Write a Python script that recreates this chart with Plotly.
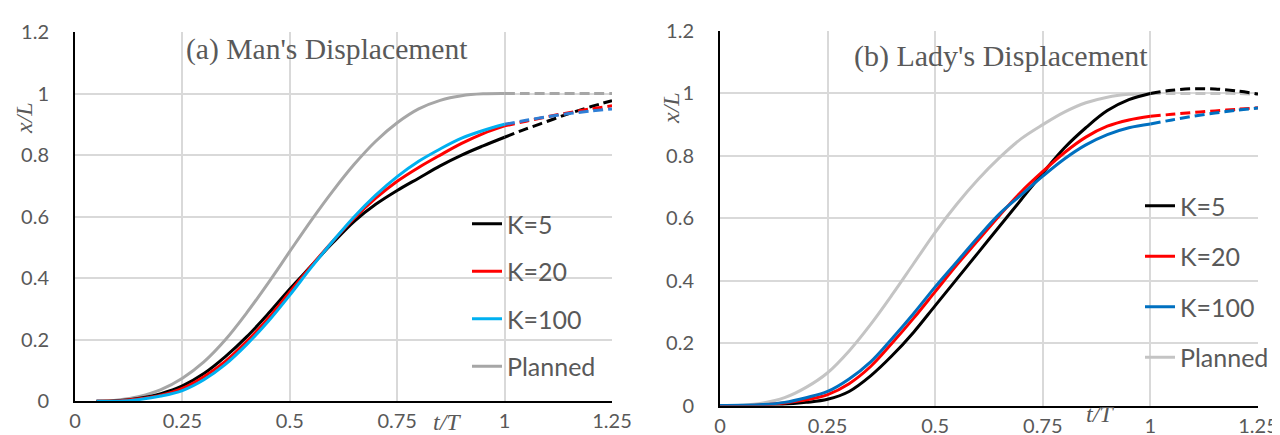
import plotly.graph_objects as go

# ---------------- data ----------------
t_man = [0.05, 0.10, 0.15, 0.20, 0.25, 0.30, 0.35, 0.40, 0.45, 0.50,
         0.55, 0.60, 0.65, 0.70, 0.75, 0.80, 0.85, 0.90, 0.95, 1.00]
t_lady = [0.00, 0.05, 0.10, 0.15, 0.20, 0.25, 0.30, 0.35, 0.40, 0.45, 0.50,
          0.55, 0.60, 0.65, 0.70, 0.75, 0.80, 0.85, 0.90, 0.95, 1.00]
t_ext = [1.00, 1.05, 1.10, 1.15, 1.20, 1.25]

man_k5 = [0, .002, .010, .025, .050, .090, .145, .210, .285, .365,
          .440, .515, .585, .640, .685, .725, .765, .800, .830, .858]
man_k20 = [0, .001, .008, .020, .042, .080, .130, .195, .270, .355,
           .440, .520, .595, .660, .715, .760, .800, .838, .870, .895]
man_k100 = [0, 0, .006, .017, .035, .070, .120, .185, .260, .345,
            .435, .520, .600, .670, .730, .780, .820, .855, .880, .900]
man_plan = [0, .004, .016, .038, .075, .128, .200, .288, .385, .487,
            .588, .683, .770, .845, .905, .950, .978, .993, .999, 1.0]
man_k5_ext = [.858, .885, .910, .935, .957, .977]
man_k20_ext = [.895, .910, .925, .938, .950, .960]
man_k100_ext = [.900, .913, .925, .935, .943, .950]
man_plan_ext = [1.0, 1.0, 1.0, 1.0, 1.0, 1.0]

lady_k5 = [0, 0, .001, .004, .010, .020, .045, .095, .160, .235, .320,
           .405, .490, .575, .660, .745, .825, .890, .945, .980, 1.0]
lady_k20 = [0, 0, .002, .008, .018, .035, .070, .125, .200, .280, .365,
            .450, .530, .610, .685, .750, .810, .860, .895, .915, .927]
lady_k100 = [0, .0005, .003, .010, .025, .045, .085, .140, .215, .295, .380,
             .460, .540, .615, .675, .735, .790, .835, .868, .890, .902]
lady_plan = [0, .001, .008, .025, .058, .105, .175, .260, .355, .455, .555,
             .645, .725, .795, .855, .900, .940, .970, .988, .997, 1.0]
lady_k5_ext = [1.0, 1.010, 1.015, 1.014, 1.008, .998]
lady_k20_ext = [.927, .933, .939, .944, .949, .954]
lady_k100_ext = [.902, .915, .927, .937, .946, .953]
lady_plan_ext = [1.0, 1.0, 1.0, 1.0, 1.0, .997]

names = ["K=5", "K=20", "K=100", "Planned"]
x_ticks = [0, 0.25, 0.5, 0.75, 1, 1.25]
x_ticktext = ["0", "0.25", "0.5", "0.75", "1", "1.25"]
y_ticks = [0, 0.2, 0.4, 0.6, 0.8, 1.0, 1.2]
y_ticktext = ["0", "0.2", "0.4", "0.6", "0.8", "1", "1.2"]

# ---------------- styling ----------------
W, H = 1280, 435
LW = 3
DASH = "10px,5px"
TXT = "#595959"
GRID = "#d9d9d9"
SANS = "Lato"
SERIF = "Liberation Serif"

man_cols = ["#000000", "#ff0000", "#00b0f0", "#a6a6a6"]
man_ext_cols = ["#000000", "#ff0000", "#2e7fd6", "#a6a6a6"]
lady_cols = ["#000000", "#ff0000", "#0070c0", "#c4c4c4"]
lady_ext_cols = ["#000000", "#ff0000", "#0070c0", "#c4c4c4"]

fig = go.Figure()

def add_panel(t, series, ext, cols, ext_cols, xa, ya, legend):
    order = [3, 0, 1, 2]  # draw planned first (underneath)
    for i in order:
        grp = f"{legend}_{i}"
        fig.add_trace(go.Scatter(
            x=t_ext, y=ext[i], mode="lines", xaxis=xa, yaxis=ya,
            line=dict(color=ext_cols[i], width=LW, dash=DASH, shape="spline"),
            showlegend=False, legendgroup=grp, legend=legend, hoverinfo="skip"))
    for i in order:
        grp = f"{legend}_{i}"
        fig.add_trace(go.Scatter(
            x=t, y=series[i], mode="lines", name=names[i], xaxis=xa, yaxis=ya,
            line=dict(color=cols[i], width=LW, shape="spline"),
            legendgroup=grp, legend=legend, legendrank=i + 1))

add_panel(t_man, [man_k5, man_k20, man_k100, man_plan],
          [man_k5_ext, man_k20_ext, man_k100_ext, man_plan_ext],
          man_cols, man_ext_cols, "x", "y", "legend")
add_panel(t_lady, [lady_k5, lady_k20, lady_k100, lady_plan],
          [lady_k5_ext, lady_k20_ext, lady_k100_ext, lady_plan_ext],
          lady_cols, lady_ext_cols, "x2", "y2", "legend2")

# plot-area pixel boxes
L1 = (67, 604, 24, 393.3)
L2 = (712, 1250, 23, 397.5)

def xdom(b):
    return [b[0] / W, b[1] / W]

def ydom(b):
    return [1 - b[3] / H, 1 - b[2] / H]

axis_common_x = dict(range=[0, 1.25], tickvals=x_ticks, ticktext=x_ticktext,
                     showgrid=True, gridcolor=GRID, gridwidth=1.5,
                     showline=True, linecolor="black", linewidth=2,
                     zeroline=False, ticks="", automargin=False,
                     tickfont=dict(family=SANS, size=20, color=TXT),
                     ticklabelstandoff=1, fixedrange=True)
axis_common_y = dict(range=[0, 1.2], tickvals=y_ticks, ticktext=y_ticktext,
                     showgrid=True, gridcolor=GRID, gridwidth=1.5,
                     showline=True, linecolor="black", linewidth=2,
                     zeroline=False, ticks="", automargin=False,
                     tickfont=dict(family=SANS, size=20, color=TXT),
                     ticklabelstandoff=20, fixedrange=True)

legend_common = dict(xanchor="left", yanchor="top", bgcolor="rgba(0,0,0,0)",
                     font=dict(family=SANS, size=25, color=TXT),
                     traceorder="grouped", itemwidth=30)

fig.update_layout(
    width=W, height=H,
    margin=dict(l=0, r=0, t=0, b=0),
    paper_bgcolor="white", plot_bgcolor="white",
    xaxis=dict(domain=xdom(L1), anchor="y", **axis_common_x),
    yaxis=dict(domain=ydom(L1), anchor="x", **axis_common_y),
    xaxis2=dict(domain=xdom(L2), anchor="y2", **axis_common_x),
    yaxis2=dict(domain=ydom(L2), anchor="x2", **axis_common_y),
    legend=dict(x=459 / W, y=1 - 193 / H, tracegroupgap=12, **legend_common),
    legend2=dict(x=1132 / W, y=1 - 175 / H, tracegroupgap=15, **legend_common),
    showlegend=True,
)

def ann(text, x, y, size, angle=0, family=SERIF):
    fig.add_annotation(text=text, x=x / W, y=1 - y / H, xref="paper", yref="paper",
                       xanchor="center", yanchor="middle", showarrow=False,
                       textangle=angle, font=dict(family=family, size=size, color=TXT))

ann("(a) Man's Displacement", 319, 42, 29.6)
ann("(b) Lady's Displacement", 993, 48, 30)
ann("<i>x/L</i>", 16, 110, 24, angle=-90)
ann("<i>x/L</i>", 663, 100, 24, angle=-90)
ann("<i>t/T</i>", 439, 414, 24)
ann("<i>t/T</i>", 1092, 406, 24)

fig.write_html("out.html")
